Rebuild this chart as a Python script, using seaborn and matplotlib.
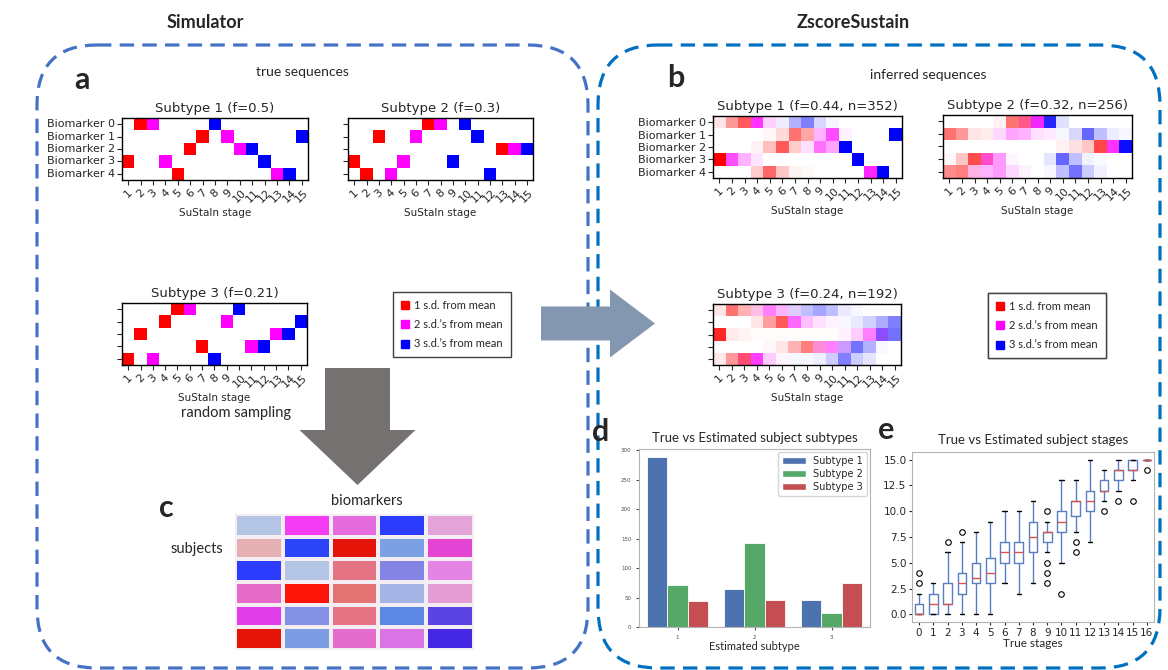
import numpy as np
import pandas as pd
import matplotlib
matplotlib.use("Agg")
import matplotlib.pyplot as plt
import seaborn as sns
from matplotlib.colors import ListedColormap
from matplotlib.patches import FancyBboxPatch, FancyArrow, Patch
from matplotlib.lines import Line2D

W, H = 1168, 670

biomarkers = ["Biomarker 0", "Biomarker 1", "Biomarker 2", "Biomarker 3", "Biomarker 4"]
stages = list(range(1, 16))

# true sequences: stage where each biomarker reaches 1, 2 and 3 s.d.
true_titles = ["Subtype 1 (f=0.5)", "Subtype 2 (f=0.3)", "Subtype 3 (f=0.21)"]
true_seq1 = [[2, 3, 8], [7, 9, 15], [6, 10, 11], [1, 4, 12], [5, 13, 14]]
true_seq2 = [[7, 8, 10], [3, 6, 11], [13, 14, 15], [1, 5, 9], [2, 4, 12]]
true_seq3 = [[5, 6, 10], [4, 9, 15], [2, 13, 14], [7, 11, 12], [1, 3, 8]]

# inferred sequences: probability of each z-event per stage (rows = biomarkers)
inf_titles = ["Subtype 1 (f=0.44, n=352)", "Subtype 2 (f=0.32, n=256)", "Subtype 3 (f=0.24, n=192)"]
inf1_z1 = [[.1, .4, .65, 0, 0, 0, 0, 0, 0, 0, 0, 0, 0, 0, 0],
           [0, 0, 0, 0, .03, .15, .55, .35, 0, 0, 0, 0, 0, 0, 0],
           [0, 0, 0, .05, .25, .65, .2, 0, 0, 0, 0, 0, 0, 0, 0],
           [1, 0, 0, 0, 0, 0, 0, 0, 0, 0, 0, 0, 0, 0, 0],
           [0, 0, 0, .2, .6, .22, .05, .02, 0, 0, 0, 0, 0, 0, 0]]
inf1_z2 = [[0, 0, 0, .8, .18, 0, 0, 0, 0, 0, 0, 0, 0, 0, 0],
           [0, 0, 0, 0, 0, 0, 0, 0, .3, .7, .05, 0, 0, 0, 0],
           [0, 0, 0, 0, 0, 0, 0, .12, .55, .35, 0, 0, 0, 0, 0],
           [0, .7, .3, .1, 0, 0, 0, 0, 0, 0, 0, 0, 0, 0, 0],
           [0, 0, 0, 0, 0, 0, 0, 0, 0, 0, 0, 0, .85, 0, 0]]
inf1_z3 = [[0, 0, 0, 0, 0, .07, .3, .5, .15, .03, 0, 0, 0, 0, 0],
           [0, 0, 0, 0, 0, 0, 0, 0, 0, 0, 0, 0, 0, 0, 1],
           [0, 0, 0, 0, 0, 0, 0, 0, 0, 0, 1, 0, 0, 0, 0],
           [0, 0, 0, 0, 0, 0, 0, 0, 0, 0, 0, 1, 0, 0, 0],
           [0, 0, 0, 0, 0, 0, 0, 0, 0, 0, 0, 0, 0, 1, 0]]

inf2_z1 = [[0, 0, 0, 0, .05, .55, .45, 0, 0, 0, 0, 0, 0, 0, 0],
           [.55, .4, .1, .07, 0, 0, 0, 0, 0, 0, 0, 0, 0, 0, 0],
           [0, 0, 0, 0, 0, 0, 0, 0, 0, .05, .12, .22, .72, 0, 0],
           [.03, .22, .7, .2, 0, 0, 0, 0, 0, 0, 0, 0, 0, 0, 0],
           [.45, .5, .1, 0, 0, 0, 0, 0, 0, 0, 0, 0, 0, 0, 0]]
inf2_z2 = [[0, 0, 0, 0, 0, 0, .2, .8, 0, 0, 0, 0, 0, 0, 0],
           [0, 0, 0, 0, .15, .35, .3, .12, .08, 0, 0, 0, 0, 0, 0],
           [0, 0, 0, 0, 0, 0, 0, 0, 0, 0, 0, 0, 0, .8, 0],
           [0, 0, 0, .5, .4, .03, 0, 0, 0, 0, 0, 0, 0, 0, 0],
           [0, 0, .2, .3, .4, .15, .05, 0, 0, 0, 0, 0, 0, 0, 0]]
inf2_z3 = [[0, 0, 0, 0, 0, 0, 0, .05, .85, .12, 0, 0, 0, 0, 0],
           [0, 0, 0, 0, 0, 0, 0, 0, 0, .03, .15, .6, .25, .07, .03],
           [0, 0, 0, 0, 0, 0, 0, 0, 0, 0, 0, 0, 0, 0, .95],
           [0, 0, 0, 0, 0, 0, 0, 0, .1, .6, .25, .05, .02, 0, 0],
           [0, 0, 0, 0, 0, 0, 0, 0, .03, .25, .55, .2, .05, 0, 0]]

inf3_z1 = [[.1, .55, .3, .1, 0, 0, 0, 0, 0, 0, 0, 0, 0, 0, 0],
           [0, 0, 0, .1, .38, .65, 0, 0, 0, 0, 0, 0, 0, 0, 0],
           [.85, .08, .04, .01, .01, .01, .01, .01, .01, .01, 0, 0, 0, 0, 0],
           [0, 0, 0, 0, .03, .1, .3, .5, .15, 0, 0, 0, 0, 0, 0],
           [.08, .4, .55, 0, 0, 0, 0, 0, 0, 0, 0, 0, 0, 0, 0]]
inf3_z2 = [[0, 0, 0, .15, .5, .3, .08, 0, 0, 0, 0, 0, 0, 0, 0],
           [0, 0, 0, 0, 0, 0, .6, .25, .12, .05, 0, 0, 0, 0, 0],
           [0, 0, 0, 0, 0, 0, 0, 0, 0, 0, .05, .2, .5, .25, 0],
           [0, 0, 0, 0, 0, 0, 0, 0, .3, .5, .2, 0, 0, 0, 0],
           [0, 0, .15, .75, .2, .04, 0, 0, 0, 0, 0, 0, 0, 0, 0]]
inf3_z3 = [[0, 0, 0, 0, 0, 0, .12, .25, .35, .25, .08, .03, 0, 0, 0],
           [0, 0, 0, 0, 0, 0, 0, 0, 0, 0, .03, .08, .18, .32, .5],
           [0, 0, 0, 0, 0, 0, 0, 0, 0, 0, 0, 0, 0, .45, .55],
           [0, 0, 0, 0, 0, 0, 0, 0, 0, 0, .2, .55, .3, .02, 0],
           [0, 0, 0, 0, 0, 0, .03, .03, .06, .2, .5, .2, .1, 0, 0]]

zscore_labels = ["1 s.d. from mean", "2 s.d.\u2019s from mean", "3 s.d.\u2019s from mean"]
zscore_colors = ["#ff0000", "#ff00ff", "#0000ff"]

# panel c: simulated subjects x biomarkers
subject_colors = [["#B4C4E4", "#F43CF4", "#E46CDC", "#2C3CFC", "#E4A4D8"],
                  ["#E4B0B4", "#2C44F8", "#E41408", "#7CA0E4", "#E444D4"],
                  ["#2C3CFC", "#B4C4E4", "#E47484", "#8484E4", "#E484E4"],
                  ["#E46CC8", "#FC1408", "#E47474", "#A4B4E4", "#E49CD4"],
                  ["#E03CE8", "#8490E4", "#E47484", "#5C88E4", "#5C44E4"],
                  ["#E41408", "#7C9CE4", "#E46CCC", "#D874E4", "#4428E4"]]

# panel d: counts of true subtype within each estimated subtype
est_subtype = ["1", "2", "3"]
count_true1 = [288, 64, 46]
count_true2 = [72, 142, 24]
count_true3 = [45, 46, 75]
deep3 = ["#4C72B0", "#55A868", "#C44E52"]

# panel e: estimated stage distribution per true stage
true_stage = list(range(17))
box_med = [0, 1, 1, 3, 3.5, 4, 6, 6, 7.5, 8, 9, 11, 11, 12, 14, 14, 15]
box_q1 = [0, 0, 1, 2, 3, 3, 5, 5, 6, 7, 8, 9.5, 10, 12, 13, 14, 15]
box_q3 = [1, 2, 3, 4, 5, 5.5, 7, 7, 9, 8, 10, 11, 12, 13, 14, 15, 15]
box_lo = [0, 0, 0, 0, 0, 0, 3, 2, 3, 6, 5, 8, 7, 11, 12, 13, 15]
box_hi = [2, 3, 6, 7, 8, 9, 10, 10, 11, 9, 13, 13, 15, 14, 15, 15, 15]
box_fliers = [[3, 4], [], [7], [8], [], [], [], [], [], [3, 4, 5, 10], [2], [6, 7],
              [], [10], [11], [11], [14]]

sns.set_style("white")
plt.rcParams["font.family"] = ["DejaVu Sans"]
CAL = "Lato"


def rect(x0, y0, x1, y1):
    return [x0 / W, 1 - y1 / H, (x1 - x0) / W, (y1 - y0) / H]


def seq_matrix(seq):
    m = np.zeros((5, 15))
    for b, ev in enumerate(seq):
        for lvl, st in enumerate(ev):
            m[b, st - 1] = lvl + 1
    return m


def pvd_rgb(z1, z2, z3):
    z1, z2, z3 = np.array(z1), np.array(z2), np.array(z3)
    rgb = np.ones((5, 15, 3))
    rgb[:, :, 0] -= z3
    rgb[:, :, 1] -= z1 + z2 + z3
    rgb[:, :, 2] -= z1
    return np.clip(rgb, 0, 1)


def finish_seq_ax(ax, title, names, offset):
    ax.set_xticks(np.arange(15) + offset)
    ax.set_xticklabels(stages, rotation=45, fontsize=8)
    ax.set_yticks(np.arange(5) + offset)
    ax.set_yticklabels(biomarkers if names else [], rotation=0, fontsize=8)
    ax.tick_params(left=True, bottom=True, length=3.5, width=0.8, pad=1.5)
    ax.set_xlabel("SuStaIn stage", fontsize=7.5, labelpad=3)
    ax.set_ylabel("")
    ax.set_title(title, fontsize=9.5, pad=4)
    for s in ax.spines.values():
        s.set_visible(True)
        s.set_color("black")
        s.set_linewidth(1)


fig = plt.figure(figsize=(W / 100, H / 100), dpi=100)

# background layer: frames, arrows and captions in pixel coordinates
bg = fig.add_axes([0, 0, 1, 1])
bg.set_xlim(0, W)
bg.set_ylim(H, 0)
bg.axis("off")

dash = (0, (4.5, 2.6))
bg.add_patch(FancyBboxPatch((37, 45), 551, 623, boxstyle="round,pad=0,rounding_size=60",
                            fill=False, ec="#4472C4", lw=2.3, ls=dash))
bg.add_patch(FancyBboxPatch((598, 45), 562, 623, boxstyle="round,pad=0,rounding_size=60",
                            fill=False, ec="#0070C0", lw=2.3, ls=dash))
bg.add_patch(FancyArrow(541, 323.5, 114, 0, width=34, head_width=68, head_length=45,
                        length_includes_head=True, color="#8497B0", lw=0))
bg.add_patch(FancyArrow(357.5, 368, 0, 117, width=65, head_width=116, head_length=55,
                        length_includes_head=True, color="#767171", lw=0))

bg.text(205, 22, "Simulator", ha="center", va="center", fontsize=13, weight="bold", family=CAL)
bg.text(853, 22, "ZscoreSustain", ha="center", va="center", fontsize=13, weight="bold", family=CAL)
for x, y, s in [(82, 80, "a"), (676, 78, "b"), (166, 508, "c"), (601, 432, "d"), (886, 430, "e")]:
    bg.text(x, y, s, ha="center", va="center", fontsize=22, weight="bold", family=CAL)
bg.text(302, 72, "true sequences", ha="center", va="center", fontsize=10, family=CAL)
bg.text(928, 75, "inferred sequences", ha="center", va="center", fontsize=10, family=CAL)
bg.text(236, 413, "random sampling", ha="center", va="center", fontsize=10.5, family=CAL)
bg.text(367, 501, "biomarkers", ha="center", va="center", fontsize=10.5, family=CAL)
bg.text(197, 549, "subjects", ha="center", va="center", fontsize=10.5, family=CAL)

handles = [Line2D([], [], ls="none", marker="s", ms=5.5, mfc=c, mec=c) for c in zscore_colors]
for anchor in [(393, 292), (988, 293)]:
    leg = bg.legend(handles, zscore_labels, loc="upper left", bbox_to_anchor=anchor,
                    bbox_transform=bg.transData, prop={"family": CAL, "size": 8},
                    fancybox=False, framealpha=1, edgecolor="#404040", borderpad=0.7,
                    labelspacing=0.75, handlelength=0.7, handletextpad=0.5, borderaxespad=0)
    leg.get_frame().set_linewidth(1)
    bg.add_artist(leg)

# panel a: true sequences
seq_cmap = ListedColormap(["white"] + zscore_colors)
true_pos = [(122, 118, 308, 180), (348, 118, 533, 180), (122, 303, 307, 365)]
for i, (seq, title, pos) in enumerate(zip([true_seq1, true_seq2, true_seq3], true_titles, true_pos)):
    ax = fig.add_axes(rect(*pos))
    sns.heatmap(seq_matrix(seq), cmap=seq_cmap, vmin=-0.5, vmax=3.5, cbar=False, ax=ax)
    finish_seq_ax(ax, title, i == 0, 0.5)

# panel b: inferred sequences
inf_data = [(inf1_z1, inf1_z2, inf1_z3), (inf2_z1, inf2_z2, inf2_z3), (inf3_z1, inf3_z2, inf3_z3)]
inf_pos = [(713, 116, 902, 178), (943, 115, 1132, 178), (713, 304, 901, 365)]
for i, (zs, title, pos) in enumerate(zip(inf_data, inf_titles, inf_pos)):
    ax = fig.add_axes(rect(*pos))
    ax.imshow(pvd_rgb(*zs), aspect="auto", interpolation="nearest")
    finish_seq_ax(ax, title, i == 0, 0)

# panel c: sampled subjects
ax_c = fig.add_axes(rect(235, 514, 474, 650))
flat = [c for row in subject_colors for c in row]
idx = np.arange(len(flat)).reshape(len(subject_colors), -1)
sns.heatmap(idx, cmap=ListedColormap(flat), cbar=False, linewidths=1.5, linecolor="#f4eef4",
            xticklabels=False, yticklabels=False, ax=ax_c)

# panel d: subtype assignment
counts = pd.DataFrame({
    "Estimated subtype": est_subtype * 3,
    "count": count_true1 + count_true2 + count_true3,
    "True subtype": ["Subtype 1"] * 3 + ["Subtype 2"] * 3 + ["Subtype 3"] * 3,
})
ax_d = fig.add_axes(rect(639, 449, 870, 627))
sns.barplot(data=counts, x="Estimated subtype", y="count", hue="True subtype",
            palette=deep3, saturation=1, edgecolor="white", linewidth=0.6,
            legend=False, ax=ax_d)
ax_d.legend(handles=[Patch(fc=c, ec="white") for c in deep3],
            labels=["Subtype 1", "Subtype 2", "Subtype 3"], loc="upper right",
            fontsize=7, handlelength=2.4, borderaxespad=0.3, labelspacing=0.3)
ax_d.set_ylabel("")
ax_d.set_xlabel("Estimated subtype", fontsize=8, family=CAL, labelpad=1)
ax_d.set_title("True vs Estimated subject subtypes", fontsize=9.5, family=CAL, pad=5)
ax_d.tick_params(labelsize=4, length=2, colors="0.3", left=True, bottom=True)
for s in ax_d.spines.values():
    s.set_color("0.7")
    s.set_linewidth(0.8)

# panel e: stage assignment
stats = [dict(med=m, q1=a, q3=b, whislo=lo, whishi=hi, fliers=f)
         for m, a, b, lo, hi, f in zip(box_med, box_q1, box_q3, box_lo, box_hi, box_fliers)]
ax_e = fig.add_axes(rect(912, 452, 1154, 622))
ax_e.bxp(stats, positions=true_stage, widths=0.6,
         boxprops=dict(color="#5a7fc0", lw=1), whiskerprops=dict(color="#5a7fc0", lw=1),
         capprops=dict(color="black", lw=1), medianprops=dict(color="#d9534f", lw=1),
         flierprops=dict(marker="o", mfc="none", mec="black", ms=4, mew=0.8))
ax_e.set_xlim(-0.5, 16.5)
ax_e.set_ylim(-0.75, 15.75)
ax_e.set_yticks([0, 2.5, 5, 7.5, 10, 12.5, 15])
ax_e.set_xticks(true_stage)
ax_e.set_xticklabels([str(s) for s in true_stage])
ax_e.tick_params(labelsize=7.5, length=2.5, left=True, bottom=True, pad=1.5)
ax_e.set_xlabel("True stages", fontsize=8.5, family=CAL, labelpad=0)
ax_e.set_title("True vs Estimated subject stages", fontsize=9.5, family=CAL, pad=6)
for s in ax_e.spines.values():
    s.set_color("0.7")
    s.set_linewidth(0.8)

fig.savefig("out.png", dpi=100, facecolor="white")
